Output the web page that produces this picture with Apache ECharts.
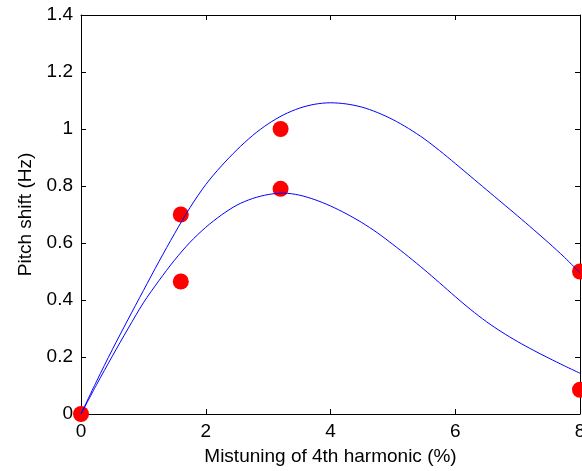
<!DOCTYPE html>
<html>
<head>
<meta charset="utf-8">
<script src="https://cdn.jsdelivr.net/npm/echarts@6/dist/echarts.min.js"></script>
<style>html,body{margin:0;padding:0;background:#fff}#c{width:582px;height:471px}</style>
</head>
<body>
<div id="c"></div>
<script>
// Measured data points (mistuning %, pitch shift Hz)
const pointX = [0, 1.6, 1.6, 3.2, 3.2, 8, 8];
const pointY = [0, 0.70, 0.465, 1.0, 0.79, 0.50, 0.085];

// Model curves
const curveX = [0, 0.25, 0.5, 0.75, 1.0, 1.25, 1.5, 1.75, 2.0, 2.25, 2.5, 2.75, 3.0, 3.25, 3.5, 3.75,
                4.0, 4.25, 4.5, 4.75, 5.0, 5.25, 5.5, 5.75, 6.0, 6.25, 6.5, 6.75, 7.0, 7.25, 7.5, 7.75, 8.0];
const upperCurve = [0, 0.115, 0.225, 0.33, 0.433, 0.535, 0.633, 0.725, 0.805, 0.87, 0.927, 0.977, 1.018, 1.05, 1.073, 1.087,
                    1.092, 1.088, 1.077, 1.058, 1.033, 1.002, 0.966, 0.924, 0.879, 0.833, 0.787, 0.741, 0.695, 0.648, 0.600, 0.550, 0.495];
const lowerCurve = [0, 0.103, 0.202, 0.298, 0.39, 0.468, 0.54, 0.603, 0.655, 0.698, 0.733, 0.756, 0.77, 0.775, 0.768, 0.752,
                    0.730, 0.703, 0.672, 0.636, 0.595, 0.552, 0.507, 0.460, 0.412, 0.366, 0.324, 0.287, 0.254, 0.224, 0.196, 0.169, 0.143];

const xTicks = [0, 2, 4, 6, 8];
const yTicks = [0, 0.2, 0.4, 0.6, 0.8, 1, 1.2, 1.4];

const FONT = 'Liberation Sans, Arial, sans-serif';
const axisCommon = {
  axisLine: { show: true, onZero: false, lineStyle: { color: '#000', width: 1 } },
  axisTick: { show: true, inside: true, length: 5, lineStyle: { color: '#000' } },
  splitLine: { show: false }
};

const chart = echarts.init(document.getElementById('c'), null, { renderer: 'canvas' });
chart.setOption({
  animation: false,
  backgroundColor: '#fff',
  grid: { left: 81, right: 2, top: 15, bottom: 57, containLabel: false, outerBoundsMode: 'none' },
  xAxis: [
    Object.assign({
      type: 'value', min: xTicks[0], max: xTicks[xTicks.length - 1], interval: 2,
      position: 'bottom',
      name: 'Mistuning of 4th harmonic (%)', nameLocation: 'middle', nameGap: 33,
      nameTextStyle: { fontFamily: FONT, fontSize: 19, color: '#000' },
      axisLabel: { fontFamily: FONT, fontSize: 19, color: '#000', margin: 8 }
    }, axisCommon),
    Object.assign({
      type: 'value', min: xTicks[0], max: xTicks[xTicks.length - 1], interval: 2,
      position: 'top', axisLabel: { show: false }
    }, axisCommon)
  ],
  yAxis: [
    Object.assign({
      type: 'value', min: yTicks[0], max: yTicks[yTicks.length - 1], interval: 0.2,
      position: 'left',
      name: 'Pitch shift (Hz)', nameLocation: 'middle', nameGap: 46,
      nameTextStyle: { fontFamily: FONT, fontSize: 19, color: '#000' },
      axisLabel: { fontFamily: FONT, fontSize: 19, color: '#000', margin: 8 }
    }, axisCommon),
    Object.assign({
      type: 'value', min: yTicks[0], max: yTicks[yTicks.length - 1], interval: 0.2,
      position: 'right', axisLabel: { show: false }
    }, axisCommon)
  ],
  series: [
    {
      type: 'scatter', xAxisIndex: 0, yAxisIndex: 0, clip: false, z: 3,
      symbol: 'circle', symbolSize: 16,
      itemStyle: { color: '#ff0000', opacity: 1 },
      data: pointX.map((x, i) => [x, pointY[i]])
    },
    {
      type: 'line', xAxisIndex: 0, yAxisIndex: 0, smooth: 0.3, showSymbol: false, z: 4,
      lineStyle: { color: '#0000ff', width: 1 },
      data: curveX.map((x, i) => [x, upperCurve[i]])
    },
    {
      type: 'line', xAxisIndex: 0, yAxisIndex: 0, smooth: 0.3, showSymbol: false, z: 4,
      lineStyle: { color: '#0000ff', width: 1 },
      data: curveX.map((x, i) => [x, lowerCurve[i]])
    }
  ]
});
</script>
</body>
</html>
